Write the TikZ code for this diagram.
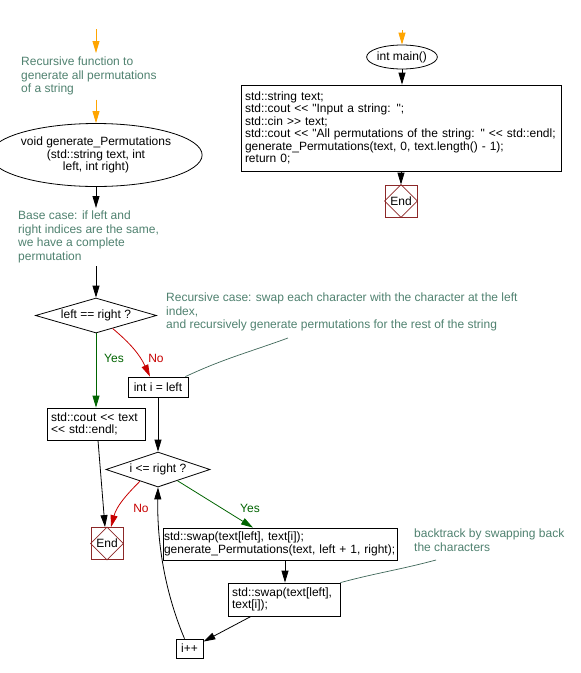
\documentclass[tikz,border=0pt]{standalone}
\usepackage{fontspec}
\setmainfont{Liberation Sans}[Ligatures=TeXOff]
\usetikzlibrary{shapes.geometric,arrows.meta}
\definecolor{orng}{RGB}{255,165,0}
\definecolor{cmt}{RGB}{80,130,112}
\definecolor{yesg}{RGB}{0,100,0}
\definecolor{nor}{RGB}{200,0,0}
\definecolor{endr}{RGB}{140,40,40}
\tikzset{
  base/.style={font=\fontsize{12}{12.5}\selectfont, inner sep=0pt},
  cmtx/.style={font=\fontsize{12}{13.5}\selectfont, inner sep=0pt, text=cmt, align=left, anchor=north west},
  box/.style={base, draw, rectangle, align=left, inner xsep=4pt, line width=0.8pt},
  ell/.style={base, draw, ellipse, align=center, line width=0.8pt},
  dia/.style={base, draw, diamond, line width=0.8pt},
  endbox/.style={base, draw=endr, rectangle, minimum size=32pt, line width=0.8pt},
  arr/.style={-{Triangle[length=12pt,width=7pt]}, line width=0.8pt},
  cmtline/.style={draw=cmt!80!black, line width=0.7pt},
  lbl/.style={base}
}
\begin{document}
\begin{tikzpicture}
\path[fill=white] (0,0) rectangle (581pt,-673pt);
\useasboundingbox (0,0) rectangle (581pt,-673pt);
\begin{scope}[x=1pt,y=1pt]
% left column
\coordinate (s1) at (96,-29);
\node[cmtx] (c1) at (21,-57) {Recursive function to\\generate all permutations\\of a string};
\node[ell, minimum width=183pt, minimum height=63pt] (gp) at (96,-155) {void generate\_Permutations\\(std::string text, int\\left, int right)};
\node[cmtx] (c2) at (18,-211) {Base case: if left and\\right indices are the same,\\we have a complete\\permutation};
\node[dia, minimum width=121pt, minimum height=35pt, shape aspect=3.4] (d1) at (96,-315.5) {left == right ?};
\node[box, text width=90pt, minimum height=32pt] (cout) at (96,-424) {std::cout << text\\<< std::endl;};
\node[box, minimum width=60pt, minimum height=20pt, align=center] (iL) at (158,-387) {int i = left};
\node[cmtx] (c3) at (166,-293) {Recursive case: swap each character with the character at the left\\index,\\and recursively generate permutations for the rest of the string};
\coordinate (cc3) at (288,-338);
\node[dia, minimum width=104pt, minimum height=35pt, shape aspect=3] (d2) at (158,-469.5) {i <= right ?};
\node[endbox] (e1) at (107,-543.5) {End};
\node[box, text width=232pt, inner xsep=1pt, minimum height=32pt] (sw) at (280,-544) {std::swap(text[left], text[i]);\\generate\_Permutations(text, left + 1, right);};
\node[box, text width=104pt, minimum height=33pt] (sw2) at (284,-599.5) {std::swap(text[left],\\text[i]);};
\node[cmtx] (c4) at (414,-529) {backtrack by swapping back\\the characters};
\coordinate (cc4) at (436,-560);
\node[box, minimum width=27pt, minimum height=19pt, align=center] (ipp) at (189.5,-648.5) {i++};
\node[lbl, text=yesg] (y1) at (114,-358) {Yes};
\node[lbl, text=nor] (n1) at (156,-358) {No};
\node[lbl, text=nor] (n2) at (141,-508) {No};
\node[lbl, text=yesg] (y2) at (250,-508) {Yes};
% right column
\coordinate (s2) at (402,-30);
\node[ell, minimum width=69pt, minimum height=24pt] (main) at (402,-57) {int main()};
\node[box, text width=312pt, minimum height=86pt] (code) at (401,-128) {std::string text;\\std::cout << "Input a string: ";\\std::cin >> text;\\std::cout << "All permutations of the string: " << std::endl;\\generate\_Permutations(text, 0, text.length() - 1);\\return 0;};
\node[endbox] (e2) at (401,-201) {End};
% End diamonds
\draw[endr, line width=0.7pt] (e1.north) -- (e1.east) -- (e1.south) -- (e1.west) -- cycle;
\draw[endr, line width=0.7pt] (e2.north) -- (e2.east) -- (e2.south) -- (e2.west) -- cycle;
% connectors
\draw[arr, orng] (s1) -- ([yshift=4pt]c1.north -| s1);
\draw[arr, orng] ([yshift=-4pt]c1.south -| gp) -- (gp.north);
\draw[arr] (gp.south) -- ([yshift=3pt]c2.north -| gp);
\draw[arr] ([yshift=-3pt]c2.south -| gp) -- (d1.north);
\draw[arr, yesg] (d1.south) -- (cout.north);
\draw[arr, nor] (d1.-38) to[out=-40, in=115] ([xshift=-8pt]iL.north);
\draw[cmtline] ([xshift=-3pt]iL.north east) to[out=25, in=200] (cc3);
\draw[arr] (iL.south) -- (d2.north);
\draw[arr] ([xshift=2pt]cout.south) -- ([xshift=-2pt]e1.north);
\draw[arr, nor] (d2.213) to[out=225, in=75] ([xshift=4pt]e1.north);
\draw[arr, yesg] (d2.-30) -- ([xshift=-27pt]sw.north);
\draw[arr] ([xshift=5pt]sw.south) -- ([xshift=1pt]sw2.north);
\draw[cmtline] (sw2.north east) to[out=15, in=195] (cc4);
\draw[arr] ([xshift=-33pt]sw2.south) -- ([yshift=-3pt]ipp.north east);
\draw[arr] ([xshift=-5pt]ipp.north) .. controls (164,-590) and (157,-540) .. (d2.south);
\draw[arr, orng] (s2) -- (main.north);
\draw[arr] (main.south) -- (code.north -| main);
\draw[arr] (code.south -| e2) -- (e2.north);
\end{scope}
\end{tikzpicture}
\end{document}
